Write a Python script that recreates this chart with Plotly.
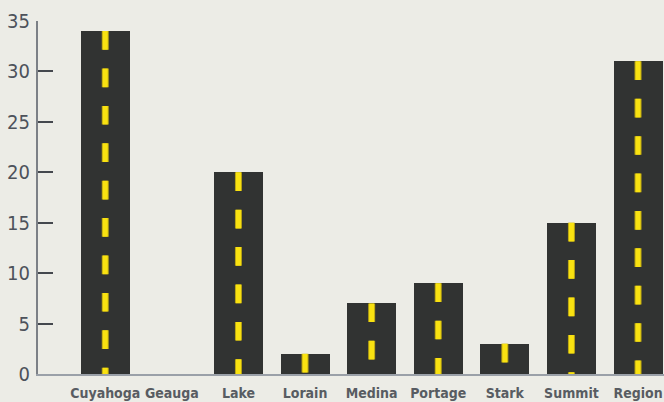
import plotly.graph_objects as go

categories = ["Cuyahoga", "Geauga", "Lake", "Lorain", "Medina", "Portage", "Stark", "Summit", "Region"]
values = [34, 0, 20, 2, 7, 9, 3, 15, 31]
y_ticks = [0, 5, 10, 15, 20, 25, 30, 35]

BG = "#ecece6"
BAR = "#313332"
YELLOW = "#f9e211"
YELLOW_EDGE = "#b9a514"
FONT = "DejaVu Sans Condensed"
pos = list(range(len(categories)))

fig = go.Figure()
fig.add_trace(go.Bar(x=pos, y=values, width=0.735, marker=dict(color=BAR, line=dict(width=0)),
                     hoverinfo="skip", showlegend=False))
for p, v in zip(pos, values):
    if v <= 0:
        continue
    fig.add_trace(go.Scatter(x=[p, p], y=[v, 0], mode="lines",
                             line=dict(color=YELLOW_EDGE, width=7, dash="18.7px,18.7px"),
                             hoverinfo="skip", showlegend=False))
    fig.add_trace(go.Scatter(x=[p, p], y=[v, 0], mode="lines",
                             line=dict(color=YELLOW, width=5, dash="18.7px,18.7px"),
                             hoverinfo="skip", showlegend=False))

fig.update_layout(
    width=664, height=402,
    paper_bgcolor=BG, plot_bgcolor=BG,
    margin=dict(l=38, r=0, t=21, b=28, autoexpand=False),
    bargap=0,
    xaxis=dict(range=[-1.01, 8.39], tickmode="array", tickvals=pos, ticktext=categories,
               showgrid=False, zeroline=False, showline=True, linecolor="#9aa0a8", linewidth=1.5,
               ticks="", tickfont=dict(family=FONT, size=14, color="#585c62", weight="bold"),
               ticklabelstandoff=5, fixedrange=True),
    yaxis=dict(range=[0, 35], tickmode="array", tickvals=y_ticks,
               showgrid=False, zeroline=False, showline=True, linecolor="#7c8086", linewidth=2,
               ticks="inside", ticklen=15, tickwidth=1.5, tickcolor="#44484e",
               tickfont=dict(family=FONT, size=20, color="#4d525b"),
               ticklabelstandoff=2, fixedrange=True),
    font=dict(family=FONT),
)
fig.write_html("out.html", config={"displayModeBar": False},
               post_script="document.body.style.margin='0';document.body.style.background='%s';" % BG)
